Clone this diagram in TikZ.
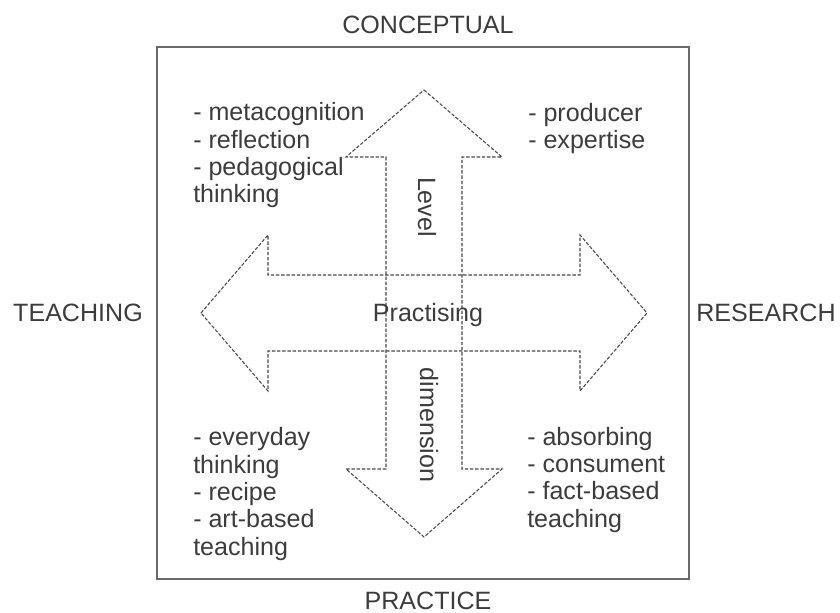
\documentclass[tikz,border=0pt]{standalone}
\usepackage{fontspec}
\setmainfont{Liberation Sans}
\begin{document}
\begin{tikzpicture}[x=0.75pt,y=-0.75pt,
  label/.style={inner sep=0pt,text=txtgray,font=\fontsize{18.8pt}{20.5pt}\selectfont},
  block/.style={label,align=left,anchor=base west},
  frame/.style={draw=framegray,line width=1.3pt},
  arrowshape/.style={draw=dashgray,line width=0.8pt,dash pattern=on 2.6pt off 1.3pt}]
\definecolor{txtgray}{HTML}{3C3C3C}
\definecolor{framegray}{HTML}{6A6A6A}
\definecolor{dashgray}{HTML}{4A4A4A}
\useasboundingbox (0,0) rectangle (840,613);

% outer square
\draw[frame] (157,47) rectangle (689,579);

% vertical double arrow (level dimension)
\draw[arrowshape] (424,90) -- (502,157) -- (462,157) -- (462,469) -- (502,469)
  -- (424,537) -- (346,469) -- (386,469) -- (386,157) -- (346,157) -- cycle;

% horizontal double arrow (practising)
\draw[arrowshape] (201,313) -- (268,235) -- (268,275) -- (580,275) -- (580,235)
  -- (647,313) -- (580,391) -- (580,351) -- (268,351) -- (268,391) -- cycle;

% axis labels
\node[label] (conceptual) at (428,25) {CONCEPTUAL};
\node[label] (practice) at (428,601) {PRACTICE};
\node[label] (teaching) at (78,313) {TEACHING};
\node[label] (research) at (766,313) {RESEARCH};

% arrow labels
\node[label,rotate=-90] (level) at (427,207) {Level};
\node[label,rotate=-90] (dimension) at (429,425) {dimension};
\node[label,anchor=base] (practising) at (428,322) {Practising};

% quadrant lists (anchored at the baseline of the last line)
\node[block] (tl) at (193,203) {- metacognition\\- reflection\\- pedagogical\\thinking};
\node[block] (tr) at (528,149) {- producer\\- expertise};
\node[block] (bl) at (193,555) {- everyday\\thinking\\- recipe\\- art-based\\teaching};
\node[block] (br) at (527,527) {- absorbing\\- consument\\- fact-based\\teaching};
\end{tikzpicture}
\end{document}
